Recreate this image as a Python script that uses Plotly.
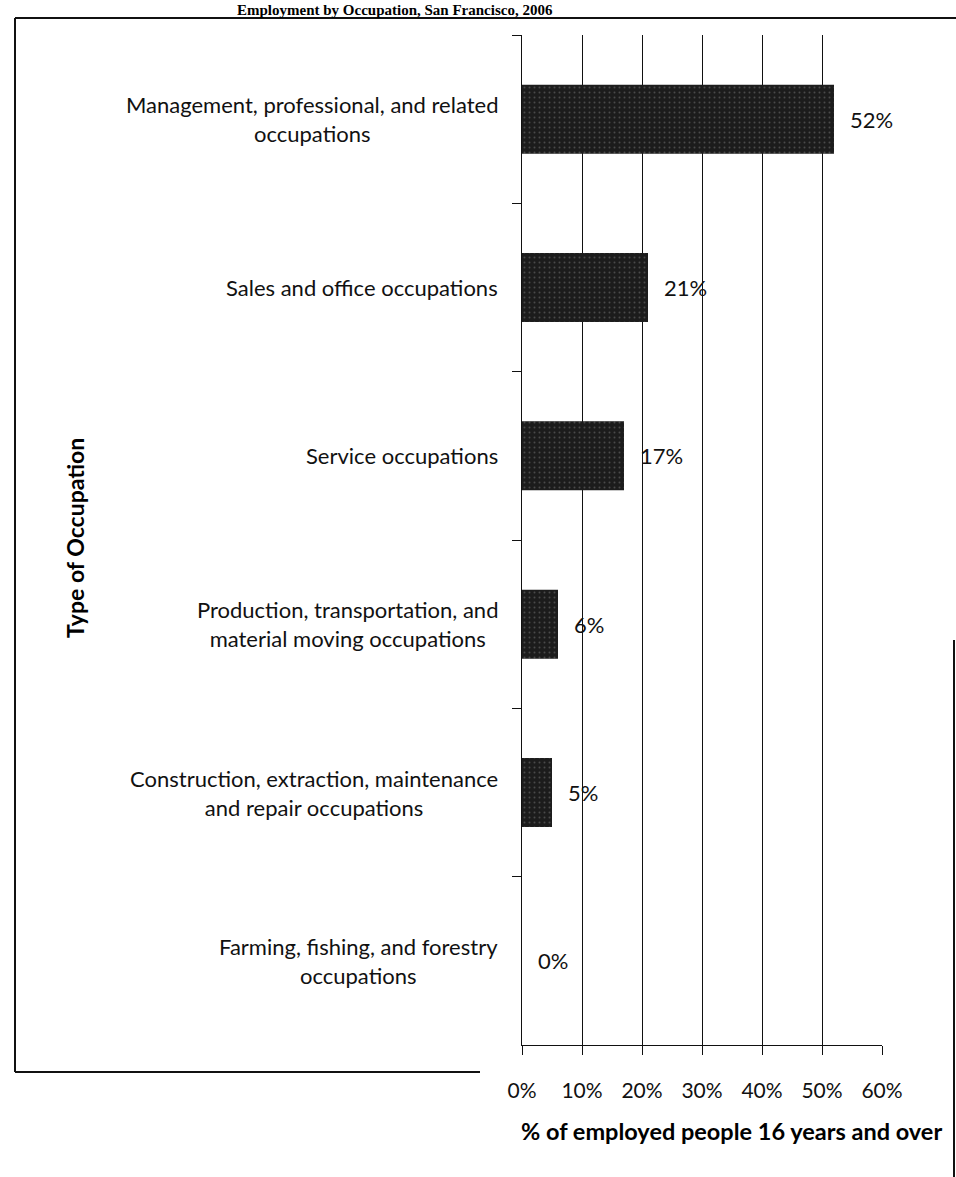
import plotly.graph_objects as go

# data
occupations = [
    "Management, professional, and related<br>occupations",
    "Sales and office occupations",
    "Service occupations",
    "Production, transportation, and<br>material moving occupations",
    "Construction, extraction, maintenance<br>and repair occupations",
    "Farming, fishing, and forestry<br>occupations",
]
pct_employed = [52, 21, 17, 6, 5, 0]
x_ticks = [0, 10, 20, 30, 40, 50, 60]
x_tick_labels = ["0%", "10%", "20%", "30%", "40%", "50%", "60%"]

W, H = 956, 1177
L, R, T, B = 522, 74, 35, 132
PW, PH = W - L - R, H - T - B


def px_x(p):  # pixel -> paper x
    return (p - L) / PW


def px_y(p):  # pixel -> paper y
    return (H - B - p) / PH


FONT = "Lato"
cats = list(range(len(occupations)))

fig = go.Figure()
fig.add_trace(go.Bar(
    x=pct_employed,
    y=cats,
    orientation="h",
    width=0.41,
    marker=dict(
        color="#1c1c1c",
        line=dict(width=0),
        pattern=dict(shape=".", fgcolor="#777777", size=5, solidity=0.12),
    ),
    hoverinfo="skip",
))

# category labels, centred per block like the original
for i, name in enumerate(occupations):
    fig.add_annotation(
        x=px_x(500), xref="paper", y=i, yref="y",
        text=name, showarrow=False, xanchor="right", yanchor="middle",
        align="center",
        font=dict(family=FONT, size=22, color="#111"),
    )

# value labels
for i, v in enumerate(pct_employed):
    fig.add_annotation(
        x=v, y=i, xref="x", yref="y", text=f"{v}%", showarrow=False,
        xanchor="left", yanchor="middle", xshift=14,
        font=dict(family=FONT, size=22, color="#111"),
    )

# document title at the very top
fig.add_annotation(
    x=px_x(555), xref="paper", y=px_y(0), yref="paper",
    text="<b>Employment by Occupation, San Francisco, 2006</b>",
    showarrow=False, xanchor="right", yanchor="top",
    font=dict(family="Liberation Serif", size=15, color="#000"),
)

# y axis title
fig.add_annotation(
    x=px_x(75), xref="paper", y=px_y(538), yref="paper",
    text="<b>Type of Occupation</b>", showarrow=False, textangle=-90,
    xanchor="center", yanchor="middle",
    font=dict(family=FONT, size=23, color="#000"),
)

# x axis title
fig.add_annotation(
    x=px_x(731), xref="paper", y=px_y(1131), yref="paper",
    text="<b>% of employed people 16 years and over</b>", showarrow=False,
    xanchor="center", yanchor="middle",
    font=dict(family=FONT, size=23.5, color="#000"),
)

# frame lines around the figure
frame = [
    (15, 18, 956, 18),
    (15, 18, 15, 1072),
    (15, 1072, 480, 1072),
    (954, 640, 954, 1177),
]
for x0, y0, x1, y1 in frame:
    fig.add_shape(
        type="line", xref="paper", yref="paper",
        x0=px_x(x0), x1=px_x(x1), y0=px_y(y0), y1=px_y(y1),
        line=dict(color="#111", width=2),
    )

fig.update_layout(
    width=W, height=H,
    margin=dict(l=L, r=R, t=T, b=B),
    paper_bgcolor="white", plot_bgcolor="white",
    showlegend=False,
    font=dict(family=FONT, size=21, color="#111"),
)
fig.update_xaxes(
    range=[0, 60], tickvals=x_ticks, ticktext=x_tick_labels,
    showgrid=True, gridcolor="#111", gridwidth=1,
    showline=True, linecolor="#111", linewidth=1,
    ticks="outside", ticklen=9, tickcolor="#111",
    ticklabelstandoff=18,
    tickfont=dict(family=FONT, size=21, color="#111"),
    zeroline=False, fixedrange=True,
)
fig.update_yaxes(
    type="linear", range=[len(occupations) - 0.5, -0.5],
    tickvals=[c + 0.5 for c in cats[:-1]] + [-0.5],
    showticklabels=False, showgrid=False,
    showline=True, linecolor="#111", linewidth=1,
    ticks="outside", ticklen=9, tickcolor="#111",
    zeroline=False, fixedrange=True,
)

fig.write_html(
    "out.html",
    config={"displayModeBar": False},
    post_script="document.body.style.margin='0px';",
)
